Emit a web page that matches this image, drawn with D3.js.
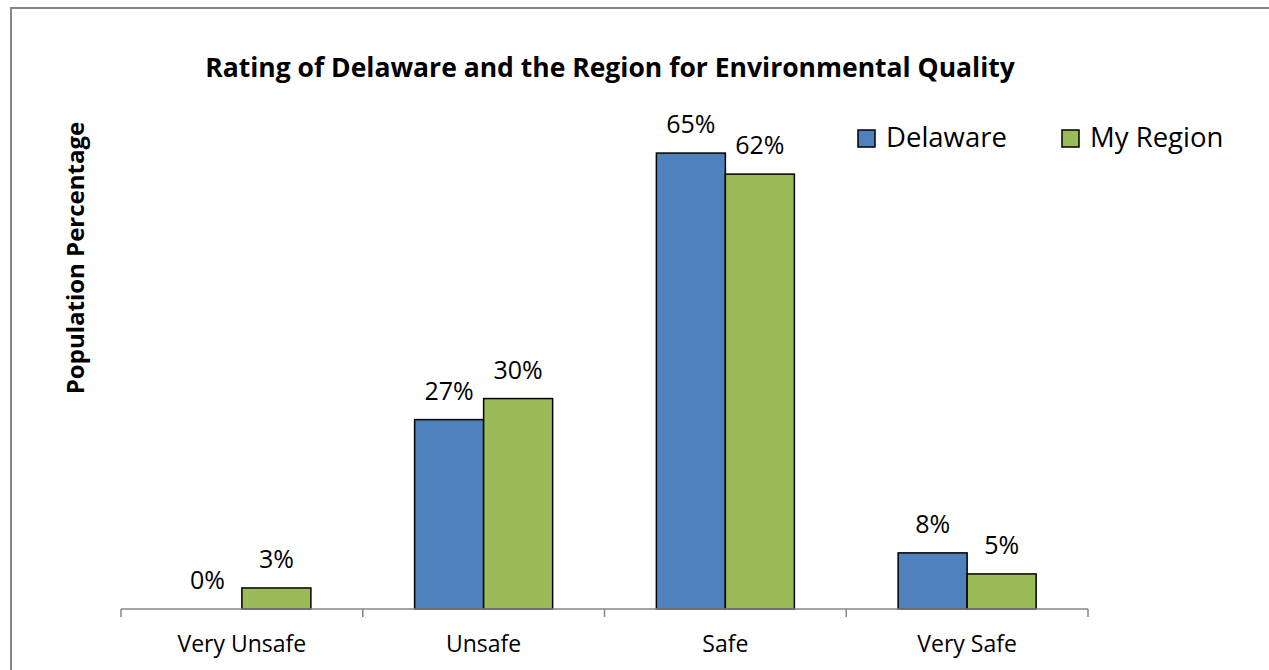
<!DOCTYPE html>
<html lang="en">
<head>
<meta charset="UTF-8">
<title>Rating of Delaware and the Region for Environmental Quality</title>
<style>
    body { margin: 0; background: #fff; }
    svg { display: block; font-family: "Open Sans", "Noto Sans", sans-serif; }
    .axis path, .axis line { stroke: #868686; stroke-width: 1.5; fill: none; }
    .bar { stroke: #000; stroke-width: 1.5; }
</style>
</head>
<body>
<div id="chart"></div>
<script src="https://d3js.org/d3.v7.min.js"></script>
<script>
// data
var categories = ["Very Unsafe", "Unsafe", "Safe", "Very Safe"];
var seriesNames = ["Delaware", "My Region"];
var delaware = [0, 27, 65, 8];
var myRegion = [3, 30, 62, 5];
var colors = ["#4F81BD", "#9BBB59"];

var width = 1269, height = 670;
var plot = { left: 121, right: 1088, top: 118, bottom: 609 };
var groupWidth = 138;

var svg = d3.select("#chart").append("svg")
    .attr("width", width).attr("height", height);

// chart area border (right and bottom edges fall outside the picture)
svg.append("rect")
    .attr("x", 11).attr("y", 8)
    .attr("width", width + 20).attr("height", height + 20)
    .attr("fill", "#fff")
    .attr("stroke", "#868686")
    .attr("stroke-width", 2);

var step = (plot.right - plot.left) / categories.length;
var pad = 1 - groupWidth / step;
var x = d3.scaleBand()
    .domain(categories)
    .range([plot.left, plot.right])
    .paddingInner(pad)
    .paddingOuter(pad / 2);
var xSub = d3.scaleBand()
    .domain(seriesNames)
    .range([0, x.bandwidth()]);
var y = d3.scaleLinear()
    .domain([0, 70])
    .range([plot.bottom, plot.top]);

var rows = categories.map(function(c, i) {
    return { cat: c, values: [delaware[i], myRegion[i]] };
});

// bars
var groups = svg.selectAll(".group")
    .data(rows)
    .enter().append("g")
    .attr("class", "group")
    .attr("transform", function(d) { return "translate(" + x(d.cat) + ",0)"; });

groups.selectAll("rect")
    .data(function(d) {
        return d.values.map(function(v, j) { return { name: seriesNames[j], v: v, j: j }; });
    })
    .enter().append("rect")
    .attr("class", "bar")
    .attr("x", function(d) { return xSub(d.name); })
    .attr("y", function(d) { return y(d.v); })
    .attr("width", xSub.bandwidth())
    .attr("height", function(d) { return y(0) - y(d.v); })
    .attr("fill", function(d) { return colors[d.j]; })
    .style("display", function(d) { return d.v === 0 ? "none" : null; });

// value labels
groups.selectAll(".val")
    .data(function(d) {
        return d.values.map(function(v, j) { return { name: seriesNames[j], v: v }; });
    })
    .enter().append("text")
    .attr("class", "val")
    .attr("x", function(d) { return xSub(d.name) + xSub.bandwidth() / 2; })
    .attr("y", function(d) { return y(d.v) - 20; })
    .attr("text-anchor", "middle")
    .attr("font-size", 25)
    .attr("fill", "#000")
    .text(function(d) { return d.v + "%"; });

// x axis: baseline with ticks at category boundaries
var axis = svg.append("g").attr("class", "axis");
axis.append("path")
    .attr("d", "M" + plot.left + "," + y(0) + "H" + plot.right);
var bounds = categories.map(function(c) { return x(c) - x.step() * pad / 2; });
bounds.push(plot.right);
axis.selectAll("line")
    .data(bounds)
    .enter().append("line")
    .attr("x1", function(d) { return d; })
    .attr("x2", function(d) { return d; })
    .attr("y1", y(0))
    .attr("y2", y(0) + 8);
svg.append("g").selectAll("text")
    .data(categories)
    .enter().append("text")
    .attr("x", function(d) { return x(d) + x.bandwidth() / 2; })
    .attr("y", y(0) + 43)
    .attr("text-anchor", "middle")
    .attr("font-size", 23)
    .attr("fill", "#000")
    .text(function(d) { return d; });

// title
svg.append("text")
    .attr("x", 610).attr("y", 77)
    .attr("text-anchor", "middle")
    .attr("font-size", 26.5)
    .attr("font-weight", "bold")
    .text("Rating of Delaware and the Region for Environmental Quality");

// y axis title
svg.append("text")
    .attr("transform", "translate(84,258) rotate(-90)")
    .attr("text-anchor", "middle")
    .attr("font-size", 24)
    .attr("font-weight", "bold")
    .text("Population Percentage");

// legend
var legendX = [858, 1062];
var legend = svg.append("g").selectAll("g")
    .data(seriesNames)
    .enter().append("g")
    .attr("transform", function(d, i) { return "translate(" + legendX[i] + ",130)"; });
legend.append("rect")
    .attr("width", 17).attr("height", 17)
    .attr("fill", function(d, i) { return colors[i]; })
    .attr("stroke", "#000")
    .attr("stroke-width", 1.5);
legend.append("text")
    .attr("x", 28).attr("y", 17)
    .attr("font-size", 27.5)
    .text(function(d) { return d; });
</script>
</body>
</html>
